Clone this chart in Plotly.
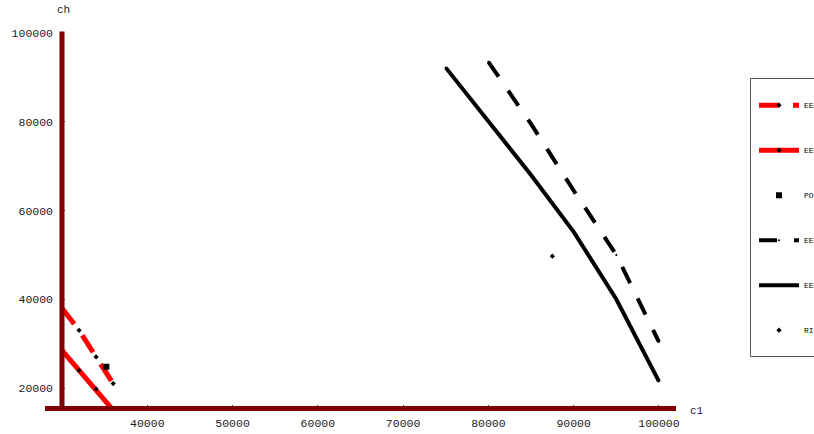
import plotly.graph_objects as go

# ---- data ----
ee_red_dash_x = [30000, 32000, 34000, 36000]
ee_red_dash_y = [38000, 33000, 27000, 21000]
ee_red_solid_x = [30000, 32000, 34000, 36000]
ee_red_solid_y = [28500, 24000, 19800, 15000]
po_x = [35200]
po_y = [24800]
ee_black_dash_x = [80000, 85000, 90000, 95000, 100000]
ee_black_dash_y = [93500, 79500, 64500, 50000, 30400]
ee_black_solid_x = [75000, 80000, 85000, 90000, 95000, 100000]
ee_black_solid_y = [92200, 80000, 68000, 55200, 40000, 21500]
ri_x = [87500]
ri_y = [49700]

x_ticks = [40000, 50000, 60000, 70000, 80000, 90000, 100000]
y_ticks = [20000, 40000, 60000, 80000, 100000]
names = ["EEF", "EEF1", "POINT", "EEP", "EEP1", "RICH"]

AXIS = "#800000"
MONO = "Liberation Mono, Courier New, monospace"

fig = go.Figure()
fig.add_trace(go.Scatter(x=ee_red_dash_x, y=ee_red_dash_y, name=names[0], mode="lines+markers",
                         line=dict(color="#ff0000", width=5, dash="20px,14px"),
                         marker=dict(symbol="diamond", size=4, color="black"), legendgroup="a"))
fig.add_trace(go.Scatter(x=ee_red_solid_x, y=ee_red_solid_y, name=names[1], mode="lines+markers",
                         line=dict(color="#ff0000", width=5),
                         marker=dict(symbol="diamond", size=4, color="black"), legendgroup="b"))
fig.add_trace(go.Scatter(x=po_x, y=po_y, name=names[2], mode="markers",
                         marker=dict(symbol="square", size=6, color="black"), legendgroup="c"))
fig.add_trace(go.Scatter(x=ee_black_dash_x, y=ee_black_dash_y, name=names[3], mode="lines+markers",
                         line=dict(color="black", width=4, dash="18px,17px"),
                         marker=dict(symbol="diamond", size=2, color="black"), legendgroup="d"))
fig.add_trace(go.Scatter(x=ee_black_solid_x, y=ee_black_solid_y, name=names[4], mode="lines+markers",
                         line=dict(color="black", width=4),
                         marker=dict(symbol="diamond", size=2, color="black"), legendgroup="e"))
fig.add_trace(go.Scatter(x=ri_x, y=ri_y, name=names[5], mode="markers",
                         marker=dict(symbol="diamond", size=4, color="black"), legendgroup="f"))

W, H = 814, 434
L, T = 62, 33
pw, ph = 614, 375
R, B = W - L - pw, H - T - ph

def px_x(p):  # page pixel -> paper
    return (p - L) / pw

def px_y(p):
    return 1 - (p - T) / ph

shapes = [
    dict(type="line", xref="paper", yref="paper", x0=0, x1=0, y0=px_y(411), y1=px_y(31.5),
         line=dict(color=AXIS, width=5), layer="above"),
    dict(type="line", xref="paper", yref="paper", x0=px_x(45), x1=px_x(676), y0=px_y(408.5), y1=px_y(408.5),
         line=dict(color=AXIS, width=5), layer="above"),
    dict(type="rect", xref="paper", yref="paper", x0=px_x(750.5), x1=px_x(840), y0=px_y(78.5), y1=px_y(356.5),
         line=dict(color="#555555", width=1), fillcolor="rgba(0,0,0,0)", layer="above"),
]

fig.update_layout(
    width=W, height=H,
    margin=dict(l=L, r=R, t=T, b=B, pad=0, autoexpand=False),
    paper_bgcolor="white", plot_bgcolor="white",
    showlegend=True,
    shapes=shapes,
    legend=dict(x=px_x(754), y=px_y(90.7), xanchor="left", yanchor="top",
                traceorder="grouped", tracegroupgap=26, itemwidth=40,
                font=dict(family=MONO, size=8, color="black"),
                bgcolor="rgba(0,0,0,0)", borderwidth=0),
    xaxis=dict(range=[30000, 102000], tickvals=x_ticks, ticktext=[str(v) for v in x_ticks],
               showgrid=False, zeroline=False, showline=False,
               ticks="inside", ticklen=3, tickcolor="#444444", tickwidth=1,
               tickfont=dict(family=MONO, size=11.5, color="#222222"),
               ticklabelstandoff=6),
    yaxis=dict(range=[15500, 100000], tickvals=y_ticks, ticktext=[str(v) for v in y_ticks],
               showgrid=False, zeroline=False, showline=False,
               ticks="inside", ticklen=3, tickcolor="#444444", tickwidth=1,
               tickfont=dict(family=MONO, size=11.5, color="#222222"),
               ticklabelstandoff=8),
    annotations=[
        dict(text="ch", xref="paper", yref="paper", x=px_x(55), y=px_y(10), xanchor="left", yanchor="middle",
             showarrow=False, font=dict(family=MONO, size=11, color="#222222")),
        dict(text="c1", xref="paper", yref="paper", x=px_x(688), y=px_y(411), xanchor="left", yanchor="middle",
             showarrow=False, font=dict(family=MONO, size=11, color="#222222")),
    ],
)

fig.write_html("out.html", config={"displayModeBar": False},
               post_script="document.body.style.margin='0';")
